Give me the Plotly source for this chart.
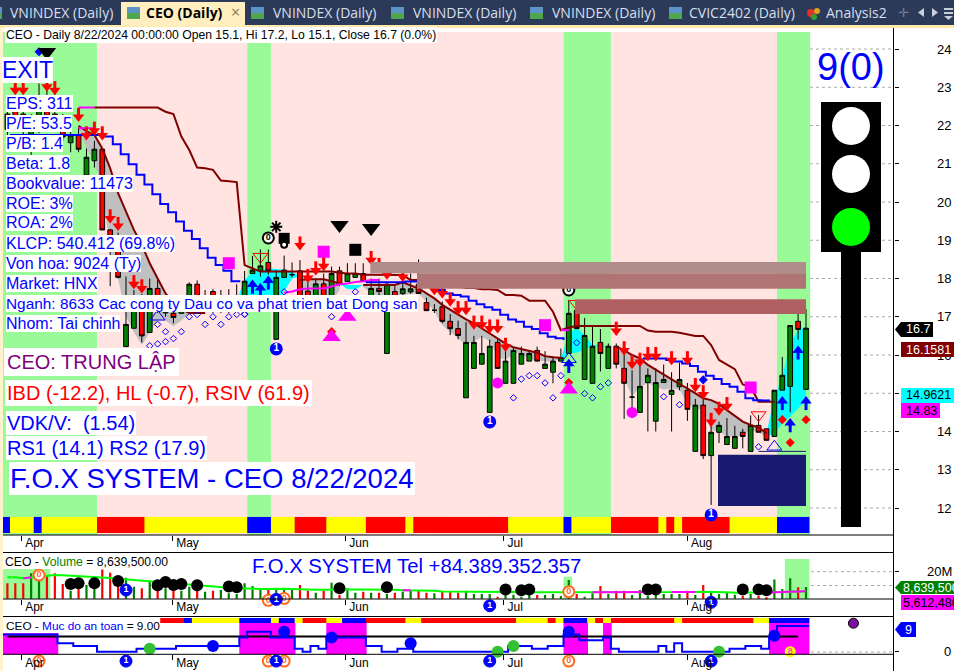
import plotly.graph_objects as go

W, H = 954, 671
N = None
bars = list(range(102))

# ---------- price candles ----------
opens = [22.3,22.4,22.3,21.5,22.0,22.5,22.3,21.9,21.55,21.75,20.7,21.08,21.38,19.27,19.1,16.22,16.7,17.3,16.59,17.74,
         17.1,17.09,17.09,17.15,17.85,17.3,17.66,17.2,17.2,17.25,17.35,18.13,18.2,18.42,16.41,18.03,18.1,18.2,17.67,17.5,
         17.86,17.3,18.2,17.92,18.03,18.13,17.52,17.74,16.04,17.66,17.61,17.65,17.85,17.37,17.17,17.26,16.88,16.69,14.88,15.65,
         15.76,14.5,16.33,15.26,15.26,15.76,15.84,16.12,15.65,15.55,15.84,16.04,17.17,15.36,15.26,16.33,15.65,16.23,15.65,14.9,
         14.5,15.28,14.27,15.28,14.97,15.17,15.08,13.48,14.69,13.37,13.98,13.66,13.56,13.98,13.48,14.16,14.07,13.87,15.08,15.18,16.88,15.1]
highs = [22.6,22.8,22.8,22.3,23.1,23.0,22.9,22.3,21.9,21.95,21.4,21.6,21.4,19.3,19.2,18.05,17.7,17.6,18.0,18.0,
         17.5,17.26,17.3,17.9,17.95,17.7,17.72,17.7,17.72,17.85,18.2,18.59,18.76,18.76,18.22,18.6,18.42,18.48,17.9,18.0,
         18.13,18.31,18.31,18.4,18.4,18.4,18.0,18.0,17.9,17.8,18.13,18.13,18.5,17.5,17.33,17.4,17.07,16.9,16.86,16.5,
         16.5,16.4,16.45,16.3,16.22,16.22,16.13,16.22,16.1,15.97,16.17,17.44,17.35,16.97,16.77,16.68,16.3,16.3,16.04,15.6,
         15.87,15.65,15.65,15.75,15.55,15.8,15.27,14.85,14.95,14.22,14.26,14.35,14.15,14.07,14.42,14.43,14.07,15.08,15.95,16.77,17.15,17.2]
lows = [21.7,22.0,21.6,20.9,21.8,22.1,22.0,21.6,21.3,21.3,20.7,20.9,19.27,17.8,18.0,16.22,16.7,16.33,16.59,17.1,
        17.0,16.83,17.09,17.15,17.1,17.2,17.1,17.1,17.1,17.2,17.35,18.13,18.05,18.1,16.41,18.03,18.03,17.4,17.4,17.5,
        17.5,17.3,17.8,17.92,18.03,17.92,17.3,17.5,16.04,17.4,17.55,17.6,17.6,17.16,17.1,16.83,16.52,16.41,14.88,15.65,
        15.76,14.5,15.65,15.26,15.26,15.76,15.84,15.84,15.65,15.26,15.84,16.04,16.69,15.36,15.26,15.57,15.65,15.65,14.33,14.35,
        14.5,14.0,14.0,15.28,14.0,15.08,14.28,13.48,13.28,12.08,13.7,13.66,13.56,13.56,13.48,13.98,13.77,13.87,15.08,14.5,16.4,15.1]
closes = [21.9,22.1,21.9,21.9,22.4,22.2,22.0,21.7,21.75,21.38,21.17,21.38,19.27,19.1,18.03,16.8,17.3,16.5,17.74,17.2,
          17.2,16.98,17.18,17.85,17.15,17.35,17.2,17.25,17.25,17.3,17.93,18.22,18.33,18.2,18.03,18.22,18.1,17.4,17.5,17.86,
          17.5,18.13,17.85,18.13,18.13,17.92,17.74,17.66,17.85,17.52,17.73,17.73,17.61,17.16,17.17,16.88,16.69,16.51,16.33,16.33,
          16.04,16.23,15.65,15.84,16.12,16.04,16.04,15.84,15.76,15.84,15.93,17.09,16.69,16.51,16.23,16.04,16.23,15.76,15.26,14.9,
          15.18,15.47,15.28,15.36,15.08,15.36,14.58,14.69,13.37,13.98,14.16,13.87,13.87,13.87,14.16,13.98,13.77,15.08,15.47,16.77,16.67,16.7]

# ---------- main-panel lines ----------
stop_line = [N]*11 + [22.47]*9 + [22.36,22.3,21.71,21.36,20.9,20.88,20.84,20.56,20.54,20.52,18.35,18.27] + [18.18]*10 + \
    [18.15,18.13,18.13,18.1,18.1,18.1,18.1,18.1,18.09,17.96,17.96,17.9,17.88,17.85,17.8,17.8,17.75,17.75,17.72,17.72,17.7,
     17.57,17.57,17.55,17.42,17.42,17.42,17.13,16.65,16.72] + [16.76]*9 + \
    [16.64,16.61,16.61,16.61,16.58,16.53,16.5,16.5,16.26,15.87,15.76,15.63,15.23,15.17,14.78,14.78,14.78] + [N]*4
blue_line = [21.75]*12 + [21.71,21.51,21.25,20.99,20.71,20.46,20.2,19.95,19.73,19.49,19.25,19.03,18.79,18.54,18.35,18.2,17.93,17.9] + \
    [N]*15 + [17.9,17.9,17.9,17.9,17.9] + \
    [17.92,17.92,17.87,17.78,17.7,17.61,17.57,17.53,17.42,17.33,17.25,17.18,17.05,16.93,16.87,16.74,16.68,16.57,16.48,16.44,16.39] + \
    [N]*9 + [15.91,15.91,15.91,15.87,15.83,15.78,15.71,15.56,15.46,15.37,15.24,15.17,15.04,14.87,14.82,14.81,14.78] + [N]*5
gray_hi = [N]*9 + [21.99,21.85,21.75,21.4,20.88,20.23,19.75,19.27,18.88,18.4,18.0,17.61,17.35,17.2,17.1,17.1,17.1] + [N]*11 + \
    [17.96,17.98,17.98,17.98,17.93,17.87] + [N]*2 + \
    [17.83,17.83,17.83,17.83,17.83,17.9,17.82,17.74,17.61,17.48,17.31,17.18,17.05,16.93,16.83,16.7,16.55,16.42,16.3,16.2,16.15,16.09,16.06,15.97,15.94,15.93] + \
    [N]*6 + [16.22,16.13,16.0,15.91,15.74,15.61,15.48,15.37,15.24,15.13,15.0,14.87,14.82,14.72,14.56,14.4,14.26,14.17,14.11,13.95] + [N]*5
gray_lo = [N]*9 + [21.9,21.4,21.0,20.4,18.7,18.0,17.0,16.6,16.26,16.6,16.9,16.9,16.75,16.9,17.1,17.1,17.1] + [N]*11 + \
    [17.3,17.3,17.3,17.3,17.4,17.7] + [N]*2 + \
    [17.78,17.6,17.5,17.5,17.5,17.55,17.6,17.61,17.4,17.13,16.78,16.61,16.44,16.26,16.35,16.48,16.35,15.96,15.87,16.04,16.04,15.87,15.87,15.83,15.85,15.89] + \
    [N]*6 + [15.96,15.43,14.91,15.17,15.26,15.17,15.09,15.13,15.09,14.74,14.61,14.56,14.04,14.0,13.87,13.87,13.9,14.04,14.0,13.82] + [N]*5
cyan_hi = [N]*29 + [17.44,17.96,18.18,18.24,18.27,18.25,18.22,18.18,18.05] + [N]*4 + [17.87,17.83,17.83,17.83] + [N]*24 + \
    [15.89,16.57,16.7,16.52,16.26,16.26,16.22] + [N]*19 + [13.95,14.91,15.43,16.3,16.65,16.74]
cyan_lo = [N]*29 + [17.44,17.44,17.2,17.2,17.2,17.2,17.66,18.0,18.05] + [N]*4 + [17.87,17.72,17.72,17.83] + [N]*24 + \
    [15.89,16.04,16.06,16.15,16.22,16.22,16.22] + [N]*19 + [13.87,13.95,14.21,14.39,14.6,14.83]
magenta_line = [N]*9 + [22.47,22.47,22.47] + [N]*23 + [17.63,17.66,17.72,17.74,17.74,17.74,17.79,17.85,17.87,17.91,17.93,17.96,17.96] + \
    [N]*22 + [16.65,16.65] + [N]*29 + [14.83,14.83]
magenta_line2 = [N]*9 + [21.93,21.93,21.93] + [N]*90

# ---------- main-panel signals ----------
band_green = [0,1,2,3,4,5,6,7,8,9,10,11,31,32,33,71,72,73,74,75,76,98,99,100,101]
strip_states = "BYYYBYYYYYYYRRRRRRYYYYYYYYYYYYYBBBYYYRRRRYYYYYRRRRRYRRRRRRRRRRRRYYYYYYYBYYYYYRRRRRRYRYRRRRRRYYYYYYBBBB"
dn_x = [1,2,5,6,9,10,11,12,13,14,16,17,37,38,39,40,46,47,48,50,54,55,56,57,58,59,60,61,62,63,77,78,79,80,81,82,84,86,87,88,89,90,91]
dn_y = [22.92,22.92,23.01,22.92,22.22,21.74,21.86,21.74,19.57,19.37,17.85,17.74,18.86,18.01,18.21,18.32,18.48,18.3,18.1,18.04,17.69,17.61,17.39,17.17,17.17,16.79,16.79,16.69,16.69,16.21,16.63,16.12,15.76,15.82,15.97,15.97,15.86,15.86,15.16,14.97,14.25,14.54,14.66]
up_x = [31,32,33,71,98,99,100,101]
up_y = [17.84,17.75,17.95,15.77,14.8,14.22,16.12,14.8]
rdiam_x = [41,71,98,99,101]
rdiam_y = [16.61,15.28,14.31,13.71,14.31]
bdiam_x = [4,88]
bdiam_y = [23.93,15.35]
hollow_x = [18,19,20,19,20,21,22,23,24,25,26,27,28,29,30,30,35,41,44,64,65,66,67,68,69,70,72,73,74,75,76,83,85,95]
hollow_y = [16.24,16.29,16.35,16.8,16.61,16.43,16.61,17.0,17.06,16.8,17.0,16.8,17.0,17.06,17.06,17.07,17.65,17.0,17.65,14.88,15.37,15.46,15.46,15.27,14.88,15.46,16.32,14.99,14.88,15.17,15.27,14.91,14.7,13.6]
tri_open_x = [19,71,97]
tri_open_y = [17.0,15.89,13.6]
trid_open_x = [32,72,95]
trid_open_y = [18.57,17.34,14.43]
msq_x = [28,40,68,94]
msq_y = [18.4,18.7,16.78,15.15]
ksq_x = [44]
ksq_y = [18.75]
ktri_x = [5,42,46]
ktri_y = [23.92,19.4,19.32]
mtri_x = [41,43,71]
mtri_y = [16.47,17.0,15.1]
mcirc_x = [62,79]
mcirc_y = [15.27,14.5]
one_x = [34,61,89]
one_y = [16.16,14.25,11.82]
zero_x = [33,71]
zero_y = [19.06,17.7]

# zones: bar from, price low, price high
zone_from = [45.9,51.8,71.8]
zone_lo = [18.14,17.73,17.07]
zone_hi = [18.43,18.14,17.46]
zone_end = 101
stoploss_box = [89.87,101,12.05,13.39]

# ---------- volume panel (millions) ----------
volume = [11.4,11.4,11.4,18.8,16.3,17.5,18.8,10.9,5.9,7.7,10.1,12.1,21.7,19.3,11.4,15.6,8.9,7.7,12.6,6.4,
          7.7,7.7,5.9,8.9,7.7,5.2,5.9,6.4,4.0,3.5,11.4,9.4,7.7,7.2,7.7,7.9,6.4,10.1,5.9,4.4,
          5.9,11.9,2.7,7.7,4.4,5.2,4.4,4.4,3.5,4.4,5.2,5.9,5.9,4.4,4.0,5.2,5.2,4.4,5.9,3.5,
          3.5,3.5,1.5,2.7,3.0,1.5,2.7,2.7,2.7,3.5,2.0,13.8,3.5,1.5,4.0,9.4,3.5,5.9,5.9,2.7,
          6.4,2.0,2.7,3.5,3.5,3.5,5.9,2.7,10.1,5.4,3.5,4.4,3.0,2.0,3.5,2.0,1.0,14.3,7.2,15.1,8.4,8.64]
vol_ma = [15.8,15.8,15.1,15.8,16.3,17.3,17.5,17.3,17.0,16.8,16.5,16.3,15.8,15.3,14.8,14.3,13.8,13.3,12.6,12.1,
          11.9,11.4,10.9,10.4,9.6,9.1,8.9,8.6,8.1,7.7,7.4,7.4,7.2,7.2,7.4,7.4,7.2,6.9,6.7,6.7,
          6.7,6.9,6.9,6.9,6.9,6.9,6.9,6.9,6.9,6.7,6.2,6.2,6.2,5.9,5.9,5.4,5.4,5.2,5.2,5.2,
          5.2,5.2,4.9,4.9,4.9,4.7,4.7,4.7,4.4,4.4,4.4,4.4,4.4,4.4,4.7,4.7,4.7,4.9,4.9,4.9,
          4.9,4.9,4.9,4.9,4.9,4.9,4.9,4.9,5.2,5.2,4.9,4.7,4.4,4.4,4.4,4.4,4.4,4.7,4.9,5.2,5.4,5.6]
vol_bg_x = [0,1,2,3,4,5,71,99,100,101]
vol_bg = [22,22,22,22,22,22,16.3,29.4,29.4,29.4]
vdot_x = [8,9,11,14,19,20,21,22,24,28,29,42,48,63,65,66,81,82,93,95,96]
vdot_y = [10.9,11.4,11.4,13.1,9.9,12.3,10.1,10.9,9.9,9.1,8.4,7.7,8.4,6.9,6.2,6.9,6.9,6.9,6.9,6.9,6.2]
ev0_x = [4,33,35,71]
ev0_vol = [17.5,-1.2,0.2,5.2]
ev1_x = [15,34,61,89]
ev1_vol = [6.4,-0.5,-5.2,-2.7]
ev_strip = -3.3

# ---------- safety panel ----------
safety = [6]*7 + [3]*2 + [2]*3 + [0]*5 + [1]*5 + [2]*8 + [5] + [7]*3 + [5]*3 + [1,0,2,1] + [5]*5 + [2,2,0,0,1,1] + [0]*12 + \
    [2,2,2,1,1,2,2,6,6,4,4,4,5,1,0,0,0,0,0,2,0,3,0,0,0,0,0,0,1,1,2,2,1,5,9,9,9,9]
safety_strip = "XXXXXXXXXXXXXXXXXXXXRRRBYYYYYYBBBBYBBYRRRYYBBBRRRRRYYRRRRRRRRRRRRYYYYRYBBBYRYRRRRRRRRYRRRRRRRRRYYBBBBB"
safety_top = {0:6.5,1:6.5,2:6.5,3:6.5,4:6.5,5:6.5,6:6.5}
safety_full = [30,31,32,33,34,35,36,41,42,43,44,45,71,72,73,76,97,98,99,100,101]
blue_dot_x = [26,35,41,51,71,97]
blue_dot_y = [2,7,5,3,7,5.6]
green_dot_x = [18,62,64,90]
green_dot_y = [1,0,2,0]

# ---------- axes ----------
month_ticks = [1.8,20.9,42.8,62.8,86]
month_labels = ["Apr","May","Jun","Jul","Aug"]
price_ticks = [12,13,14,15,16,17,18,19,20,21,22,23,24]

tabs_x = [62,324,464,603,742]
tabs_t = ["VNINDEX (Daily)","VNINDEX (Daily)","VNINDEX (Daily)","VNINDEX (Daily)","CVIC2402 (Daily)"]

info_rows = ["EPS: 311","P/E: 53.5","P/B: 1.4","Beta: 1.8","Bookvalue: 11473","ROE: 3%","ROA: 2%",
             "KLCP: 540.412 (69.8%)","Von hoa: 9024 (Ty)","Market: HNX",
             "Nganh: 8633 Cac cong ty Dau co va phat trien bat Dong san","Nhom: Tai chinh"]
info_sizes = [16,16,16,16,16,16,16,16,16,16,15.4,16]

# ---------- helpers ----------
BLUE="#0000FF"; RED="#FF0000"; DK="#800000"; GRN="#008000"; MAG="#FF00FF"
PAL="#98FB98"; PINK="#FFE4E1"
FONT="Liberation Sans"
STEP=7.907; X0=7.4
def px(x): return x/W
def py(y): return 1-y/H
def yd(top,bot): return [1-bot/H,1-top/H]
def bx(x): return (x-X0)/STEP

shapes=[]; annos=[]
def rect(x0,y0,x1,y1,color,layer="above"):
    shapes.append(dict(type="rect",xref="paper",yref="paper",x0=px(x0),x1=px(x1),y0=py(y0),y1=py(y1),
                       fillcolor=color,line=dict(width=0),layer=layer))
def hline(x0,x1,y,color="black",w=1,dash="solid"):
    shapes.append(dict(type="line",xref="paper",yref="paper",x0=px(x0),x1=px(x1),y0=py(y),y1=py(y),
                       line=dict(color=color,width=w,dash=dash),layer="above"))
def vline(x,y0,y1,color="black",w=1):
    shapes.append(dict(type="line",xref="paper",yref="paper",x0=px(x),x1=px(x),y0=py(y0),y1=py(y1),
                       line=dict(color=color,width=w),layer="above"))
def circ(cx,cy,r,color):
    shapes.append(dict(type="circle",xref="paper",yref="paper",x0=px(cx-r),x1=px(cx+r),y0=py(cy+r),y1=py(cy-r),
                       fillcolor=color,line=dict(width=0),layer="above"))
def poly(pts,color,layer="above"):
    p="M"+" L".join(f"{px(a):.5f},{py(b):.5f}" for a,b in pts)+" Z"
    shapes.append(dict(type="path",xref="paper",yref="paper",path=p,fillcolor=color,line=dict(width=0),layer=layer))
def text(x,y,s,size,color="black",bg=None,anchor="left",bold=False,font=FONT,pad=0):
    annos.append(dict(xref="paper",yref="paper",x=px(x),y=py(y),text=f"<b>{s}</b>" if bold else s,showarrow=False,
                      xanchor=anchor,yanchor="middle",font=dict(size=size,color=color,family=font),
                      bgcolor=bg,borderpad=pad,borderwidth=0))

def runs(vals):
    out=[];cur=[]
    for i,v in enumerate(vals):
        if v is None:
            if cur: out.append(cur);cur=[]
        else: cur.append(i)
    if cur: out.append(cur)
    return out

# bands (per-bar state, below traces)
gset=set(band_green)
i=0
while i<102:
    j=i
    while j+1<102 and ((j+1 in gset)==(i in gset)): j+=1
    shapes.append(dict(type="rect",xref="x",yref="paper",x0=i-0.67,x1=j+0.33+(0.2 if j==101 else 0),y0=py(535),y1=py(32),
                       fillcolor=PAL if i in gset else PINK,line=dict(width=0),layer="below"))
    i=j+1
# gray + cyan regions, below the candles
for hi,lo,col in [(gray_hi,gray_lo,"#C0C0C0"),(cyan_hi,cyan_lo,"#00FFFF")]:
    for r in runs(hi):
        pts=[(k,hi[k]) for k in r]+[(k,lo[k]) for k in reversed(r)]
        shapes.append(dict(type="path",xref="x",yref="y",path="M"+" L".join(f"{a},{b}" for a,b in pts)+" Z",
                           fillcolor=col,line=dict(width=0),layer="below"))

fig=go.Figure()
def sc(x,y,sym,size,color,ax="",line=None,lw=0,**kw):
    m=dict(symbol=sym,size=size,color=color,line=dict(color=line or color,width=lw))
    fig.add_trace(go.Scatter(x=x,y=y,mode=kw.pop("mode","markers"),marker=m,xaxis="x"+ax,yaxis="y"+ax,
                             cliponaxis=False,showlegend=False,hoverinfo="skip",**kw))
def ln(x,y,color,w=2,ax="",shape="linear"):
    fig.add_trace(go.Scatter(x=x,y=y,mode="lines",line=dict(color=color,width=w,shape=shape),xaxis="x"+ax,yaxis="y"+ax,
                             connectgaps=False,showlegend=False,hoverinfo="skip"))
STATE={"R":RED,"Y":"#FFFF00","B":BLUE,"X":"rgba(0,0,0,0)"}
BW=1.1  # slight overlap so neighbouring cells show no seam

# main: colour strip
fig.add_trace(go.Bar(x=bars,y=[0.42]*102,base=[11.346]*102,width=BW,offset=-0.67,marker=dict(color=[STATE[s] for s in strip_states],line=dict(width=0)),
                     xaxis="x",yaxis="y",showlegend=False,hoverinfo="skip"))
# lines
ln(bars,stop_line,DK)
ln(bars,gray_hi,DK)
ln(bars,magenta_line,MAG)
ln(bars,magenta_line2,MAG)
ln([b+0.33 for b in bars],blue_line,BLUE,shape="hv")
# candles
fig.add_trace(go.Candlestick(x=bars,open=opens,high=highs,low=lows,close=closes,whiskerwidth=0,
    increasing=dict(line=dict(color="black",width=1),fillcolor=GRN),
    decreasing=dict(line=dict(color="black",width=1),fillcolor=RED),
    xaxis="x",yaxis="y",showlegend=False,hoverinfo="skip"))
# arrows
fig.add_trace(go.Scatter(x=dn_x,y=dn_y,mode="markers",marker=dict(symbol="triangle-down",size=10,color=RED),
    error_y=dict(type="data",symmetric=False,array=[0.24]*len(dn_x),arrayminus=[0]*len(dn_x),thickness=3,width=0,color=RED),showlegend=False,hoverinfo="skip"))
fig.add_trace(go.Scatter(x=up_x,y=up_y,mode="markers",marker=dict(symbol="triangle-up",size=10,color=BLUE),
    error_y=dict(type="data",symmetric=False,array=[0]*len(up_x),arrayminus=[0.24]*len(up_x),thickness=3,width=0,color=BLUE),showlegend=False,hoverinfo="skip"))
sc(rdiam_x,rdiam_y,"diamond",7,RED)
sc(bdiam_x,bdiam_y,"diamond",7,BLUE)
sc(hollow_x,hollow_y,"diamond-open",5,BLUE,lw=1)
sc(tri_open_x,tri_open_y,"triangle-up-open",13,BLUE,lw=1)
sc(trid_open_x,trid_open_y,"triangle-down-open",13,RED,lw=1)
sc(msq_x,msq_y,"square",12,MAG)
sc(ksq_x,ksq_y,"square",12,"black")
sc(ktri_x,ktri_y,"triangle-down",16,"black")
sc(mtri_x,mtri_y,"triangle-up",16,MAG)
sc(mcirc_x,mcirc_y,"circle",11,MAG)
sc(zero_x,zero_y,"circle",11,"white",line="black",lw=2,mode="markers+text",text=["<b>0</b>"]*2,textposition="middle center",textfont=dict(size=9,color="black",family=FONT))
sc([34],[19.35],"asterisk-open",10,"black",line="black",lw=2)
sc([35],[19.05],"square",11,"black")
sc([35],[18.88],"circle",6,"white",line="black",lw=2)
sc(one_x,one_y,"circle",13,BLUE,mode="markers+text",text=["<b>1</b>"]*3,textposition="middle center",textfont=dict(size=10,color="white",family=FONT))

# volume
fig.add_trace(go.Bar(x=vol_bg_x,y=vol_bg,width=BW,offset=-0.67,marker=dict(color=PAL,line=dict(width=0)),xaxis="x2",yaxis="y2",showlegend=False,hoverinfo="skip"))
fig.add_trace(go.Bar(x=bars,y=volume,width=0.28,offset=-0.14,marker=dict(color=[GRN if c>=o else RED for o,c in zip(opens,closes)],line=dict(width=0)),
                     xaxis="x2",yaxis="y2",showlegend=False,hoverinfo="skip"))
ln(bars,vol_ma,"#00FF00",ax="2")
ma_mag=[v if (2<=k<=3 or 50<=k<=51 or 74<=k<=82 or 84<=k<=87 or k>=95) else None for k,v in enumerate(vol_ma)]
ln(bars,ma_mag,MAG,ax="2")
sc(vdot_x,vdot_y,"circle",12,"black",ax="2")
def ev(x,y,ax,color,fill,lab,lw):
    sc(x,y,"circle",11 if lw==2 else 12,fill,ax=ax,line=color,lw=lw,mode="markers+text",text=[f"<b>{lab}</b>"]*len(x),textposition="middle center",
       textfont=dict(size=9,color=color if fill=="white" else "white",family=FONT))
ev(ev0_x,ev0_vol,"2","#FF6A1F","white","0",2)
ev(ev1_x,ev1_vol,"2",BLUE,BLUE,"1",1)

# safety
mag_x=list(safety_top)+safety_full
mag_y=[safety_top[k]+0.9 for k in safety_top]+[11.0]*len(safety_full)
fig.add_trace(go.Bar(x=mag_x,y=mag_y,base=[-0.9]*len(mag_x),width=BW,offset=-0.67,marker=dict(color=MAG,line=dict(width=0)),xaxis="x3",yaxis="y3",showlegend=False,hoverinfo="skip"))
fig.add_trace(go.Bar(x=bars,y=[1.7]*102,base=[10.1]*102,width=BW,offset=-0.67,marker=dict(color=[STATE[s] for s in safety_strip],line=dict(width=0)),xaxis="x3",yaxis="y3",showlegend=False,hoverinfo="skip"))
ln(bars[:101],[5.3]*101,"black",w=2,ax="3")
ln([b-0.67 for b in bars]+[101.4],safety+[9],BLUE,ax="3",shape="hv")
sc(blue_dot_x,blue_dot_y,"circle",12,BLUE,ax="3")
sc(green_dot_x,green_dot_y,"circle",12,"#33C033",ax="3")
sc([99],[0],"circle",11,"#FFFF00",ax="3",mode="markers+text",text=["8"],textposition="middle center",textfont=dict(size=9,color=MAG,family=FONT))
sc([107],[10],"circle",10,"#7A0FA0",ax="3",line="black",lw=1)
ev(ev0_x,[ev_strip]*4,"3","#FF6A1F","white","0",2)
ev(ev1_x,[ev_strip]*4,"3",BLUE,BLUE,"1",1)

# zones / stop-loss box on top of the candles
for a,lo,hi,col in zip(zone_from,zone_lo,zone_hi,["#B08C8A","#B07474","#B06060"]):
    shapes.append(dict(type="rect",xref="x",yref="y",x0=a,x1=zone_end,y0=lo,y1=hi,fillcolor=col,line=dict(width=0),layer="above"))
shapes.append(dict(type="rect",xref="x",yref="y",x0=stoploss_box[0],x1=stoploss_box[1],y0=stoploss_box[2],y1=stoploss_box[3],fillcolor="#191970",line=dict(width=0),layer="above"))
shapes.append(dict(type="line",xref="x",yref="y",x0=95,x1=zone_end,y0=13.48,y1=13.48,line=dict(color="#191970",width=1),layer="above"))

# dotted grid at right
for p in price_ticks:
    yy=49+(24-p)*38.25
    hline(810,893,yy,"#AAAAAA",1,"dot")
hline(811,893,571.7,"#AAAAAA",1,"dot")
hline(811,893,585.5,"#AAAAAA",1,"dot")
hline(811,893,652,"#AAAAAA",1,"dot")

# traffic light
rect(841,250,861,527,"black"); rect(821,102,881,252,"black")
circ(851,126,19,"white"); circ(851,174,19,"white"); circ(851,227,19,"#00FF00")

# frame
vline(893.5,28,671)
for yy in (535,552.5,599,616.5,654.3):
    hline(0,893.5,yy)

# tab bar & top stripe
rect(0,0,954,25,"#2B3A58"); rect(0,25,954,28,"#FFE9A9"); rect(0,28,3,671,"#FFF2CC")
rect(121,2,245,26,"#FFEFC0")
for x,t in zip(tabs_x,tabs_t):
    text(x,13,t,14,"#D7DFEE",anchor="center",font="Open Sans")
    rect(x-73,7,x-60,19,"#5C93C8")
    rect(x-73,13,x-60,19,"#4FA64F")
rect(127,7,140,19,"#5C93C8"); rect(127,13,140,19,"#4FA64F")
text(184,13,"CEO (Daily)",14,"black",anchor="center",bold=True,font="Open Sans")
text(235,12,"×",16,"#8A7A50",anchor="center",font="Open Sans")
text(856,13,"Analysis2",14,"#D7DFEE",anchor="center",font="Open Sans")
circ(811,13,4,"#E03030"); circ(817,11,3,"#E0A020"); circ(814,17,3,"#30A030")
text(903,13,"✛",13,"#7A8496",anchor="center",font="DejaVu Sans")
poly([(924,8),(924,17),(918,12.5)],"#C8CEDA"); poly([(932,8),(932,17),(938,12.5)],"#C8CEDA")
rect(944,8,953,10,"#C8CEDA"); rect(944,12,953,14,"#C8CEDA"); poly([(944,16),(953,16),(948.5,20)],"#C8CEDA")

# chart texts
text(5,35,"CEO - Daily 8/22/2024 00:00:00 Open 15.1, Hi 17.2, Lo 15.1, Close 16.7 (0.0%)",12.2,"black",bg="white",pad=1)
text(2,70,"EXIT",23,BLUE,bg="white")
for k,(t,s) in enumerate(zip(info_rows,info_sizes)):
    text(6,103+20*k,t,s,BLUE,bg="white",pad=0)
text(4,362,"CEO: TRUNG LẬP",20,"#800080",bg="white",pad=3)
text(5,393,"IBD (-12.2), HL (-0.7), RSIV (61.9)",20,RED,bg="white",pad=2)
text(6,423,"VDK/V:  (1.54)",20,BLUE,bg="white",pad=1)
text(6,448,"RS1 (14.1) RS2 (17.9)",20,BLUE,bg="white",pad=1)
text(9,479,"F.O.X SYSTEM - CEO 8/22/2024",27.5,BLUE,bg="white",pad=1)
text(851,67,"9(0)",38,BLUE,anchor="center")
text(416.5,566,"F.O.X SYSTEM Tel +84.389.352.357",20.3,BLUE,anchor="center")
text(5,562,'CEO - <span style="color:#008000">Volume</span> = 8,639,500.00',12.2,"black",bg="white")
text(6,625.5,'CEO - <span style="color:#0000FF">Muc do an toan</span> = 9.00',11.8,"black",bg="white")

# value labels at right
LBL=12.5
poly([(895,329.5),(901,322),(933,322),(933,337),(901,337)],"black")
text(906,329.5,"16.7",LBL,"white")
rect(901,342,954,357,DK); text(906,349.5,"16.1581",LBL,"white")
rect(901,388,954,403,"#00FFFF"); text(906,395.5,"14.9621",LBL,"black")
rect(901,403,940,418,MAG); text(906,410.5,"14.83",LBL,"black")
poly([(895,587.5),(901,581),(954,581),(954,594),(901,594)],GRN)
text(903,587.5,"8,639,500",LBL,"white")
rect(901,595,954,610,MAG); text(903,602.5,"5,612,480",LBL,"black")
poly([(895,629.5),(901,622),(916,622),(916,637),(901,637)],BLUE)
text(905,629.5,"9",LBL,"white")

xcommon=dict(range=[bx(0),bx(W)],domain=[0,1],showgrid=False,zeroline=False,showline=False,rangeslider=dict(visible=False),
             tickmode="array",tickvals=month_ticks,ticktext=month_labels,ticks="outside",ticklen=5,tickcolor="black",
             ticklabelposition="outside right",ticklabelshift=3,ticklabelstandoff=-3,
             tickfont=dict(size=12,family=FONT,color="black"),fixedrange=True)
ycommon=dict(anchor="free",position=893.5/W,side="right",showgrid=False,zeroline=False,showline=False,ticks="outside",ticklen=4,
             tickcolor="black",tickfont=dict(size=13,family=FONT,color="black"),tickmode="array",fixedrange=True)
fig.update_layout(
    width=W,height=H,margin=dict(l=0,r=0,t=0,b=0,autoexpand=False),paper_bgcolor="white",plot_bgcolor="rgba(0,0,0,0)",
    barmode="overlay",boxgap=0.15,showlegend=False,shapes=shapes,annotations=annos,
    xaxis=dict(anchor="y",**xcommon),
    xaxis2=dict(anchor="free",position=py(599),**xcommon),
    xaxis3=dict(anchor="free",position=py(654.3),**xcommon),
    yaxis=dict(domain=yd(28,535),range=[24-(535-49)/38.25,24+(49-28)/38.25],tickvals=price_ticks,ticktext=[str(p) for p in price_ticks],ticklabelstandoff=36,**ycommon),
    yaxis2=dict(domain=yd(552.5,616.5),range=[(598.7-616.5)/1.35,(598.7-552.5)/1.35],tickvals=[20],ticktext=["20M"],ticklabelstandoff=26,**ycommon),
    yaxis3=dict(domain=yd(616.5,671),range=[(651.7-671)/2.85,(651.7-616.5)/2.85],tickvals=[0],ticktext=["0"],ticklabelstandoff=43,**ycommon),
)
fig.write_html("out.html",post_script="document.body.style.margin='0';document.body.style.overflow='hidden';",config=dict(displayModeBar=False))
